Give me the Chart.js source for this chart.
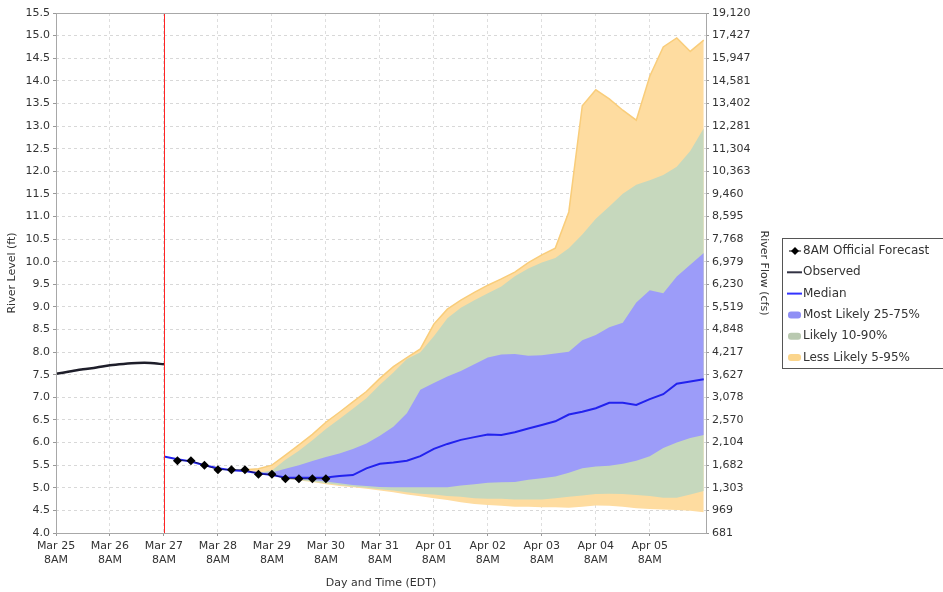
<!DOCTYPE html>
<html>
<head>
<meta charset="utf-8">
<script src="https://cdn.jsdelivr.net/npm/chart.js@4.4.1/dist/chart.umd.min.js"></script>
<style>
  html, body { margin: 0; padding: 0; background: #fff; }
</style>
</head>
<body>
<canvas id="chart" width="943" height="592"></canvas>
<script>
// -----------------------------
// DATA  (x = hours after Mar 25 8AM EDT)
// -----------------------------
const dayLabels = ["Mar 25", "Mar 26", "Mar 27", "Mar 28", "Mar 29", "Mar 30",
                   "Mar 31", "Apr 01", "Apr 02", "Apr 03", "Apr 04", "Apr 05"];

// right axis labels, bottom (4.0 ft) to top (15.5 ft)
const flowTicks = ["681", "969", "1,303", "1,682", "2,104", "2,570", "3,078", "3,627",
                   "4,217", "4,848", "5,519", "6,230", "6,979", "7,768", "8,595", "9,460",
                   "10,363", "11,304", "12,281", "13,402", "14,581", "15,947", "17,427", "19,120"];

const nowHour = 48;

const observedHours = [0, 6, 12, 18, 24, 30, 36, 42, 48];
const observed = [7.52, 7.57, 7.62, 7.66, 7.71, 7.74, 7.76, 7.76, 7.73];

const forecastHours = [54, 60, 66, 72, 78, 84, 90, 96, 102, 108, 114, 120];
const forecast = [5.6, 5.6, 5.5, 5.4, 5.4, 5.4, 5.3, 5.3, 5.2, 5.2, 5.2, 5.2];

// median every 6 h from Mar 27 8AM
const medianStart = 48;
const median = [5.69, 5.63, 5.58, 5.50, 5.43, 5.39, 5.37, 5.32, 5.28, 5.23,
                5.22, 5.22, 5.23, 5.26, 5.28, 5.43, 5.53, 5.56, 5.60, 5.70,
                5.86, 5.97, 6.06, 6.12, 6.18, 6.17, 6.23, 6.31, 6.39, 6.47,
                6.62, 6.68, 6.76, 6.88, 6.88, 6.83, 6.96, 7.07, 7.30, 7.35, 7.40];

// exceedance bands every 6 h from Mar 28 8PM
const bandStart = 84;
const p95 = [5.40, 5.42, 5.50, 5.72, 5.95, 6.18, 6.45, 6.67, 6.90, 7.13,
             7.42, 7.68, 7.88, 8.07, 8.62, 8.95, 9.15, 9.32, 9.48, 9.62,
             9.77, 9.98, 10.15, 10.30, 11.10, 13.45, 13.80, 13.60, 13.35, 13.13,
             14.10, 14.75, 14.95, 14.65, 14.90];
const p90 = [5.37, 5.33, 5.38, 5.62, 5.82, 6.05, 6.30, 6.52, 6.75, 6.98,
             7.28, 7.55, 7.85, 8.00, 8.35, 8.75, 8.98, 9.15, 9.30, 9.45,
             9.68, 9.85, 9.98, 10.08, 10.30, 10.60, 10.95, 11.22, 11.50, 11.70,
             11.80, 11.92, 12.10, 12.45, 12.95];
const p75 = [5.37, 5.33, 5.34, 5.42, 5.50, 5.59, 5.68, 5.76, 5.86, 5.98,
             6.15, 6.35, 6.65, 7.17, 7.32, 7.46, 7.58, 7.73, 7.88, 7.95,
             7.96, 7.92, 7.93, 7.97, 8.01, 8.26, 8.38, 8.55, 8.65, 9.10,
             9.37, 9.30, 9.67, 9.93, 10.19];
const p25 = [5.37, 5.32, 5.28, 5.21, 5.19, 5.17, 5.14, 5.10, 5.06, 5.04,
             5.02, 5.01, 5.01, 5.01, 5.01, 5.01, 5.05, 5.08, 5.11, 5.12,
             5.13, 5.18, 5.21, 5.25, 5.33, 5.43, 5.47, 5.49, 5.53, 5.60,
             5.70, 5.88, 6.00, 6.10, 6.17];
const p10 = [5.37, 5.32, 5.28, 5.21, 5.17, 5.14, 5.10, 5.06, 5.03, 5.00,
             4.97, 4.94, 4.90, 4.87, 4.85, 4.82, 4.80, 4.77, 4.76, 4.76,
             4.74, 4.74, 4.74, 4.77, 4.80, 4.83, 4.86, 4.87, 4.86, 4.84,
             4.82, 4.78, 4.78, 4.85, 4.93];
const p05 = [5.37, 5.32, 5.28, 5.21, 5.16, 5.13, 5.08, 5.04, 5.01, 4.98,
             4.94, 4.90, 4.85, 4.81, 4.77, 4.73, 4.68, 4.64, 4.62, 4.60,
             4.58, 4.58, 4.57, 4.57, 4.56, 4.58, 4.61, 4.60, 4.58, 4.55,
             4.53, 4.52, 4.51, 4.49, 4.46];

// -----------------------------
// HELPERS
// -----------------------------
function toPoints(hours, values) {
    return values.map((v, i) => ({ x: hours[i], y: v }));
}
function every6h(start, values) {
    return values.map((v, i) => ({ x: start + 6 * i, y: v }));
}

const ORANGE = "#fedca0";
const GREEN = "#c6d8bd";
const BLUE = "#9c9cf9";
const MEDIAN = "#2222ee";
const OBS = "#1e1e2a";

Chart.defaults.font.family = "'DejaVu Sans', sans-serif";
Chart.defaults.font.size = 11;
Chart.defaults.color = "#333";

// -----------------------------
// PLUGINS
// -----------------------------
const frameAndNow = {
    id: "frameAndNow",
    afterDatasetsDraw(chart) {
        const { ctx, chartArea: a, scales } = chart;
        ctx.save();
        // red "now" line
        const xn = Math.round(scales.x.getPixelForValue(nowHour)) + 0.5;
        ctx.strokeStyle = "#ff2424";
        ctx.lineWidth = 1;
        ctx.beginPath();
        ctx.moveTo(xn, a.top);
        ctx.lineTo(xn, a.bottom);
        ctx.stroke();
        // plot frame
        ctx.strokeStyle = "#a8a8a8";
        ctx.strokeRect(Math.round(a.left) + 0.5, Math.round(a.top) + 0.5,
                       Math.round(a.right - a.left), Math.round(a.bottom - a.top));
        ctx.restore();
    }
};

const boxLegend = {
    id: "boxLegend",
    afterDraw(chart) {
        const { ctx, chartArea: a } = chart;
        const x0 = a.right + 76;
        const y0 = a.top + 225;
        const rowH = 21.3;
        const items = [
            { text: "8AM Official Forecast", kind: "point" },
            { text: "Observed", kind: "line", color: "#333344" },
            { text: "Median", kind: "line", color: "#3333ff" },
            { text: "Most Likely 25-75%", kind: "box", color: "#8f8ff5" },
            { text: "Likely 10-90%", kind: "box", color: "#b9c9b0" },
            { text: "Less Likely 5-95%", kind: "box", color: "#fbd58c" }
        ];
        ctx.save();
        ctx.fillStyle = "#fff";
        ctx.fillRect(x0, y0, 200, 130);
        ctx.strokeStyle = "#555";
        ctx.lineWidth = 1;
        ctx.strokeRect(x0 + 0.5, y0 + 0.5, 200, 130);
        ctx.font = "12px 'DejaVu Sans', sans-serif";
        ctx.textBaseline = "middle";
        items.forEach((it, i) => {
            const cy = y0 + 13 + i * rowH;
            const sx = x0 + 5;
            if (it.kind === "point") {
                ctx.strokeStyle = "#000";
                ctx.lineWidth = 1;
                ctx.beginPath();
                ctx.moveTo(sx + 2, cy);
                ctx.lineTo(sx + 14, cy);
                ctx.stroke();
                ctx.fillStyle = "#000";
                ctx.beginPath();
                ctx.moveTo(sx + 8, cy - 4);
                ctx.lineTo(sx + 12, cy);
                ctx.lineTo(sx + 8, cy + 4);
                ctx.lineTo(sx + 4, cy);
                ctx.closePath();
                ctx.fill();
            } else if (it.kind === "line") {
                ctx.strokeStyle = it.color;
                ctx.lineWidth = 2;
                ctx.beginPath();
                ctx.moveTo(sx, cy);
                ctx.lineTo(sx + 15, cy);
                ctx.stroke();
            } else {
                ctx.fillStyle = it.color;
                ctx.beginPath();
                ctx.roundRect(sx + 1, cy - 3.5, 13, 7, 3);
                ctx.fill();
            }
            ctx.fillStyle = "#333";
            ctx.fillText(it.text, x0 + 21, cy);
        });
        ctx.restore();
    }
};

// -----------------------------
// CHART
// -----------------------------
const bandLine = { pointRadius: 0, borderWidth: 0, tension: 0 };

new Chart(document.getElementById("chart"), {
    type: "line",
    data: {
        datasets: [
            { label: "Less Likely 5-95%", data: every6h(bandStart, p95), ...bandLine,
              borderWidth: 1.5, borderColor: "#f9cd7a", backgroundColor: ORANGE, fill: "+1", order: 10 },
            { label: "", data: every6h(bandStart, p05), ...bandLine, borderColor: ORANGE, fill: false, order: 10 },
            { label: "Likely 10-90%", data: every6h(bandStart, p90), ...bandLine,
              borderColor: GREEN, backgroundColor: GREEN, fill: "+1", order: 8 },
            { label: "", data: every6h(bandStart, p10), ...bandLine, borderColor: GREEN, fill: false, order: 8 },
            { label: "Most Likely 25-75%", data: every6h(bandStart, p75), ...bandLine,
              borderColor: BLUE, backgroundColor: BLUE, fill: "+1", order: 6 },
            { label: "", data: every6h(bandStart, p25), ...bandLine, borderColor: BLUE, fill: false, order: 6 },
            { label: "Median", data: every6h(medianStart, median), pointRadius: 0, borderWidth: 2,
              borderColor: MEDIAN, fill: false, tension: 0, order: 3 },
            { label: "Observed", data: toPoints(observedHours, observed), pointRadius: 0, borderWidth: 2.5,
              borderColor: OBS, fill: false, tension: 0.3, order: 2 },
            { label: "8AM Official Forecast", data: toPoints(forecastHours, forecast),
              borderColor: "rgba(0,0,0,0.55)", borderWidth: 1, fill: false, tension: 0,
              pointStyle: "rectRot", pointRadius: 4.5, pointBackgroundColor: "#000",
              pointBorderColor: "#000", pointBorderWidth: 0, order: 1 }
        ]
    },
    options: {
        responsive: false,
        animation: false,
        layout: { padding: { left: 0, top: 13, right: 171, bottom: 0 } },
        plugins: { legend: { display: false }, tooltip: { enabled: false } },
        scales: {
            x: {
                type: "linear",
                min: 0,
                max: 289,
                afterBuildTicks: s => { s.ticks = s.ticks.filter(t => t.value % 24 === 0 && t.value <= 264); },
                afterFit: s => { s.height = 59; },
                ticks: {
                    stepSize: 24,
                    autoSkip: false,
                    maxRotation: 0,
                    padding: 4,
                    color: "#333",
                    callback: v => [dayLabels[v / 24], "8AM"]
                },
                grid: { color: "#dedede", tickLength: 3, tickColor: "#999" },
                border: { display: false, dash: [3, 3] },
                title: { display: true, text: "Day and Time (EDT)", padding: { top: 0, bottom: 2 }, color: "#333" }
            },
            y: {
                position: "left",
                min: 4,
                max: 15.5,
                afterFit: s => { s.width = 56; },
                ticks: { stepSize: 0.5, autoSkip: false, padding: 3, color: "#333",
                         callback: v => v.toFixed(1) },
                grid: { color: "#d8d8d8", tickLength: 3, tickColor: "#999" },
                border: { display: false, dash: [3, 3] },
                title: { display: true, text: "River Level (ft)", padding: { top: 6, bottom: 0 }, color: "#333" }
            },
            y2: {
                position: "right",
                min: 4,
                max: 15.5,
                afterFit: s => { s.width = 66; },
                ticks: { stepSize: 0.5, autoSkip: false, padding: 3, color: "#333",
                         callback: v => flowTicks[Math.round((v - 4) / 0.5)] },
                grid: { drawOnChartArea: false, tickLength: 3, tickColor: "#999" },
                border: { display: false },
                title: { display: true, text: "River Flow (cfs)", padding: { top: 2, bottom: 0 }, color: "#333" }
            }
        }
    },
    plugins: [frameAndNow, boxLegend]
});
</script>
</body>
</html>
